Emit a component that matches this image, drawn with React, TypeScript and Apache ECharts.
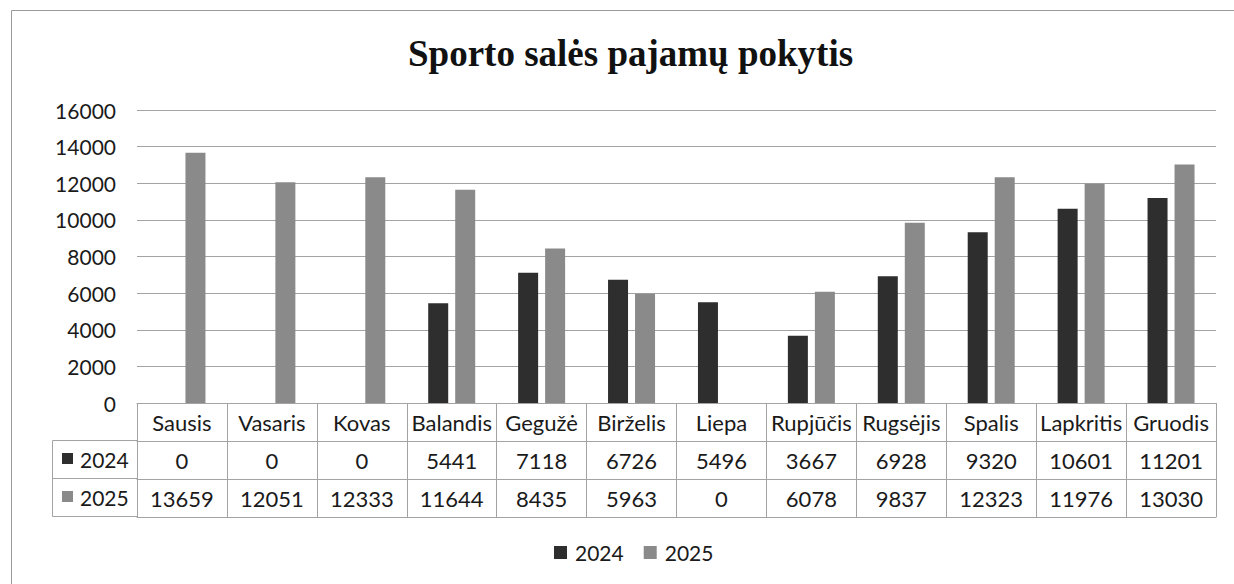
import React, { useEffect, useRef } from "react";
import * as echarts from "echarts";

const months = ["Sausis", "Vasaris", "Kovas", "Balandis", "Gegužė", "Birželis", "Liepa", "Rupjūčis", "Rugsėjis", "Spalis", "Lapkritis", "Gruodis"];
const values2024 = [0, 0, 0, 5441, 7118, 6726, 5496, 3667, 6928, 9320, 10601, 11201];
const values2025 = [13659, 12051, 12333, 11644, 8435, 5963, 0, 6078, 9837, 12323, 11976, 13030];
const seriesNames = ["2024", "2025"];
const yTicks = { min: 0, max: 16000, interval: 2000 };

const title = "Sporto salės pajamų pokytis";
const color2024 = "#2e2e2e";
const color2025 = "#8a8a8a";
const lineColor = "#a3a3a3";
const textColor = "#1a1a1a";
const font = "Lato";

export default function App() {
  const ref = useRef<HTMLDivElement>(null);
  useEffect(() => {
    if (!ref.current) return;
    const chart = echarts.init(ref.current, null, { renderer: "svg" });
    const rowH = 38;
    const tableAxis = (idx: number, values: number[] | null, tickLen: number) => ({
      type: "category",
      gridIndex: 0,
      position: "bottom",
      offset: idx * rowH,
      data: months,
      boundaryGap: true,
      axisLine: { show: true, lineStyle: { color: lineColor, width: 1 } },
      axisTick: { show: tickLen > 0, length: tickLen, alignWithLabel: false, lineStyle: { color: lineColor, width: 1 } },
      axisLabel: {
        show: values !== null || idx === 0,
        interval: 0,
        margin: 8,
        color: textColor,
        fontFamily: font,
        fontSize: 22,
        formatter: (v: string, i: number) => (values ? String(values[i]) : v),
      },
      splitLine: { show: false },
    });
    chart.setOption({
      animation: false,
      backgroundColor: "#ffffff",
      title: {
        text: title,
        left: 403,
        top: 30,
        textStyle: { fontFamily: "Liberation Serif", fontWeight: "bold", fontSize: 37, color: "#111" },
      },
      legend: {
        data: seriesNames,
        left: 554,
        top: 542,
        padding: 0,
        icon: "rect",
        itemWidth: 13,
        itemHeight: 13,
        itemGap: 20,
        textStyle: { fontFamily: font, fontSize: 21, color: textColor, padding: [0, 0, 0, 3] },
      },
      grid: { left: 137, right: 18, top: 110, bottom: 181, containLabel: false },
      xAxis: [
        tableAxis(0, null, 38),
        tableAxis(1, values2024, 38),
        tableAxis(2, values2025, 38),
        tableAxis(3, null, 0),
      ].map((a, i) => (i === 3 ? { ...a, axisLabel: { show: false } } : a)),
      yAxis: {
        type: "value",
        min: yTicks.min,
        max: yTicks.max,
        interval: yTicks.interval,
        axisLine: { show: false },
        axisTick: { show: false },
        axisLabel: { margin: 21, color: textColor, fontFamily: font, fontSize: 21, formatter: (v: number) => String(v) },
        splitLine: { lineStyle: { color: lineColor, width: 1 } },
      },
      series: [
        { name: seriesNames[0], type: "bar", data: values2024, barWidth: 20, barGap: "35%", itemStyle: { color: color2024 } },
        { name: seriesNames[1], type: "bar", data: values2025, barWidth: 20, barGap: "35%", itemStyle: { color: color2025 } },
      ],
      graphic: [
        { type: "rect", shape: { x: 11.5, y: 10.5, width: 1400, height: 800 }, style: { fill: "none", stroke: "#9a9a9a", lineWidth: 1 }, silent: true },
        { type: "rect", shape: { x: 52.5, y: 440.5, width: 85, height: 76 }, style: { fill: "none", stroke: lineColor, lineWidth: 1 } },
        { type: "line", shape: { x1: 52.5, y1: 478.5, x2: 137.5, y2: 478.5 }, style: { stroke: lineColor, lineWidth: 1 } },
        { type: "rect", shape: { x: 62, y: 453, width: 11, height: 11 }, style: { fill: color2024 } },
        { type: "text", x: 80, y: 459, style: { text: seriesNames[0], fontFamily: font, fontSize: 21, fill: textColor, verticalAlign: "middle" } },
        { type: "rect", shape: { x: 62, y: 491, width: 11, height: 11 }, style: { fill: color2025 } },
        { type: "text", x: 80, y: 497, style: { text: seriesNames[1], fontFamily: font, fontSize: 21, fill: textColor, verticalAlign: "middle" } },
      ],
    });
    return () => chart.dispose();
  }, []);
  return <div ref={ref} style={{ position: "absolute", left: 0, top: 0, width: 1234, height: 584 }} />;
}
